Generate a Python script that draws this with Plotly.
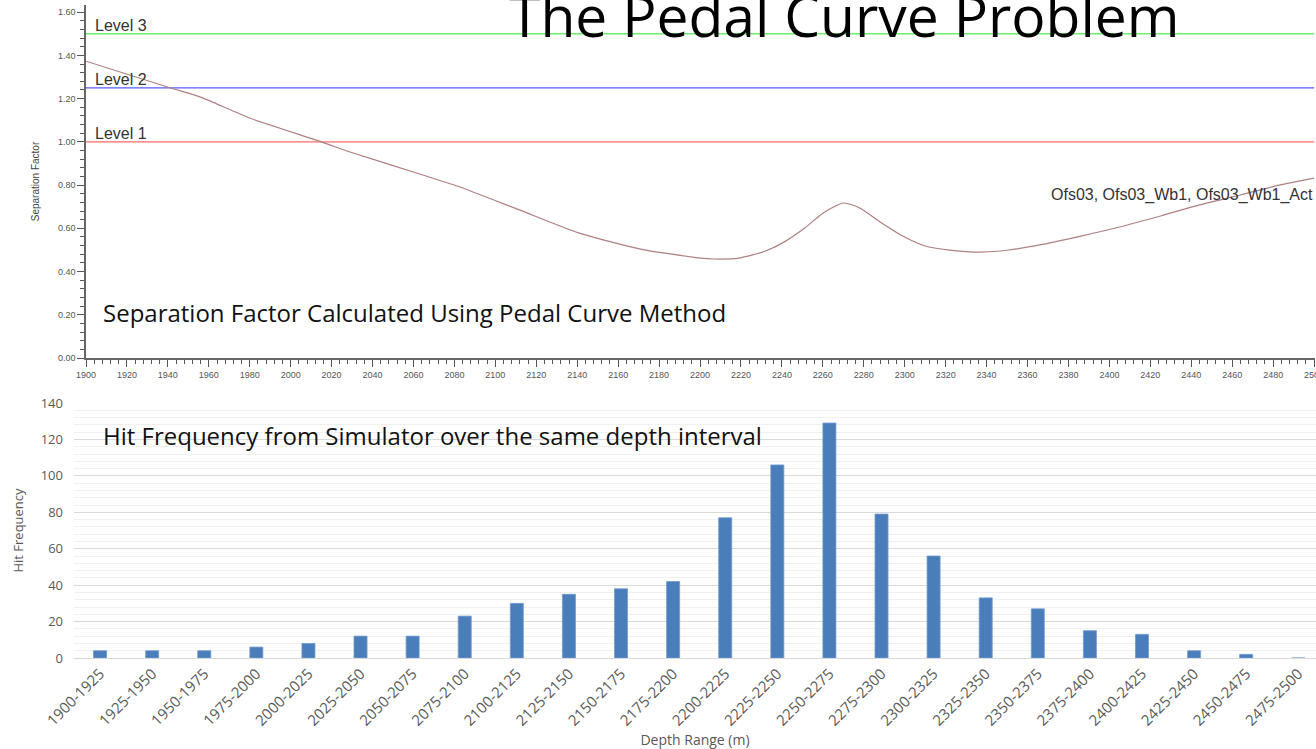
import plotly.graph_objects as go

W, H = 1316, 749

# ---- Top chart data (Separation Factor vs depth) ----
sf_depth = [1900, 1941, 1956, 1980, 2015, 2029, 2063, 2083, 2112, 2141, 2171, 2200, 2207,
            2219, 2232, 2241, 2251, 2260, 2270, 2278, 2288, 2299, 2310, 2322, 2334, 2347,
            2366, 2386, 2405, 2425, 2444, 2464, 2483, 2500]
sf_value = [1.373, 1.25, 1.207, 1.11, 1.0, 0.953, 0.851, 0.79, 0.684, 0.578, 0.504, 0.462, 0.458,
            0.462, 0.495, 0.536, 0.60, 0.67, 0.717, 0.694, 0.629, 0.564, 0.518, 0.499, 0.490, 0.495,
            0.523, 0.564, 0.606, 0.657, 0.708, 0.754, 0.80, 0.832]
level_names = ["Level 1", "Level 2", "Level 3"]
level_values = [1.00, 1.25, 1.50]
level_colors = ["#ff6b6b", "#5a5aff", "#6cf06c"]

# ---- Bottom chart data (Hit frequency) ----
depth_ranges = ["1900-1925", "1925-1950", "1950-1975", "1975-2000", "2000-2025", "2025-2050",
                "2050-2075", "2075-2100", "2100-2125", "2125-2150", "2150-2175", "2175-2200",
                "2200-2225", "2225-2250", "2250-2275", "2275-2300", "2300-2325", "2325-2350",
                "2350-2375", "2375-2400", "2400-2425", "2425-2450", "2450-2475", "2475-2500"]
hit_freq = [4, 4, 4, 6, 8, 12, 12, 23, 30, 35, 38, 42, 77, 106, 129, 79, 56, 33, 27, 15, 13, 4, 2, 0]

def px_x(p):
    return p / W

def px_y(p):
    return 1 - p / H

fig = go.Figure()

# Level lines
for name, val, col in zip(level_names, level_values, level_colors):
    fig.add_trace(go.Scatter(x=[1900, 2500], y=[val, val], mode="lines",
                             line=dict(color=col, width=1.3), xaxis="x", yaxis="y",
                             showlegend=False, hoverinfo="skip"))
    fig.add_annotation(x=1900, y=val, xref="x", yref="y", text=name, showarrow=False,
                       xanchor="left", yanchor="bottom", xshift=7, yshift=-2,
                       font=dict(family="Arial", size=16, color="#333333"))

fig.add_trace(go.Scatter(x=sf_depth, y=sf_value, mode="lines",
                         line=dict(color="#b07f7f", width=1.2, shape="spline", smoothing=0.6),
                         xaxis="x", yaxis="y", showlegend=False))

fig.add_trace(go.Bar(x=depth_ranges, y=hit_freq, marker=dict(color="#4a7ebb",
                     line=dict(color="#6f9ad0", width=0.8)),
                     xaxis="x2", yaxis="y2", showlegend=False))

axis_common = dict(showgrid=False, zeroline=False, automargin=False)

fig.update_layout(
    width=W, height=H,
    margin=dict(l=0, r=0, t=0, b=0),
    paper_bgcolor="white", plot_bgcolor="white",
    bargap=0.75,
    xaxis=dict(domain=[px_x(86), px_x(1314.5)], anchor="y", range=[1900, 2500.2],
               dtick=20, tick0=1900, ticks="outside", ticklen=7, tickwidth=1,
               tickcolor="#555555", showline=True, linecolor="#666666", linewidth=1.5,
               tickfont=dict(family="Arial", size=9, color="#555555"),
               ticklabeloverflow="allow",
               minor=dict(dtick=4, ticks="outside", ticklen=4, tickcolor="#555555"),
               **axis_common),
    yaxis=dict(domain=[px_y(358), px_y(5)], anchor="x", range=[0, 1.633],
               dtick=0.2, tick0=0, tickformat=".2f", ticks="outside", ticklen=7,
               tickcolor="#555555", showline=True, linecolor="#666666", linewidth=1.5,
               tickfont=dict(family="Arial", size=9, color="#555555"),
               minor=dict(dtick=0.04, ticks="outside", ticklen=4, tickcolor="#555555"),
               title=dict(text="Separation Factor", font=dict(family="Arial", size=10, color="#444444"),
                          standoff=16),
               **axis_common),
    xaxis2=dict(domain=[px_x(74), 1.0], anchor="y2", range=[-0.5, 23.34],
                type="category", tickangle=-45, ticks="",
                tickfont=dict(family="Open Sans", size=15, color="#595959"),
                showline=True, linecolor="#d9d9d9", linewidth=1,
                title=dict(text="Depth Range (m)", font=dict(family="Open Sans", size=14, color="#595959"),
                           standoff=5),
                **axis_common),
    yaxis2=dict(domain=[px_y(658), px_y(403)], anchor="x2", range=[0, 140],
                dtick=20, showgrid=True, gridcolor="#d9d9d9", gridwidth=1.2,
                minor=dict(dtick=4, showgrid=True, gridcolor="#f0f0f0", gridwidth=1),
                zeroline=False, automargin=False, ticks="",
                tickfont=dict(family="Open Sans", size=13, color="#595959"),
                ticklabelstandoff=10,
                title=dict(text="Hit Frequency", font=dict(family="Open Sans", size=13, color="#595959"),
                           standoff=14)),
)

# Texts
fig.add_annotation(x=px_x(844), y=px_y(15), xref="paper", yref="paper",
                   text="The Pedal Curve Problem", showarrow=False,
                   xanchor="center", yanchor="middle",
                   font=dict(family="Open Sans", size=57, color="#000000"))
fig.add_annotation(x=px_x(101), y=px_y(312), xref="paper", yref="paper",
                   text="Separation Factor Calculated Using Pedal Curve Method", showarrow=False,
                   xanchor="left", yanchor="middle",
                   font=dict(family="Open Sans", size=24, color="#111111"))
fig.add_annotation(x=px_x(101), y=px_y(435), xref="paper", yref="paper",
                   text="Hit Frequency from Simulator over the same depth interval", showarrow=False,
                   xanchor="left", yanchor="middle",
                   font=dict(family="Open Sans", size=24, color="#111111"))
fig.add_annotation(x=px_x(1315), y=px_y(195), xref="paper", yref="paper",
                   text="Ofs03, Ofs03_Wb1, Ofs03_Wb1_Act", showarrow=False,
                   xanchor="right", yanchor="middle",
                   font=dict(family="Arial", size=16, color="#333333"))

fig.write_html("out.html", config={"displayModeBar": False},
               post_script="document.body.style.margin='0';document.body.style.overflow='hidden';")
